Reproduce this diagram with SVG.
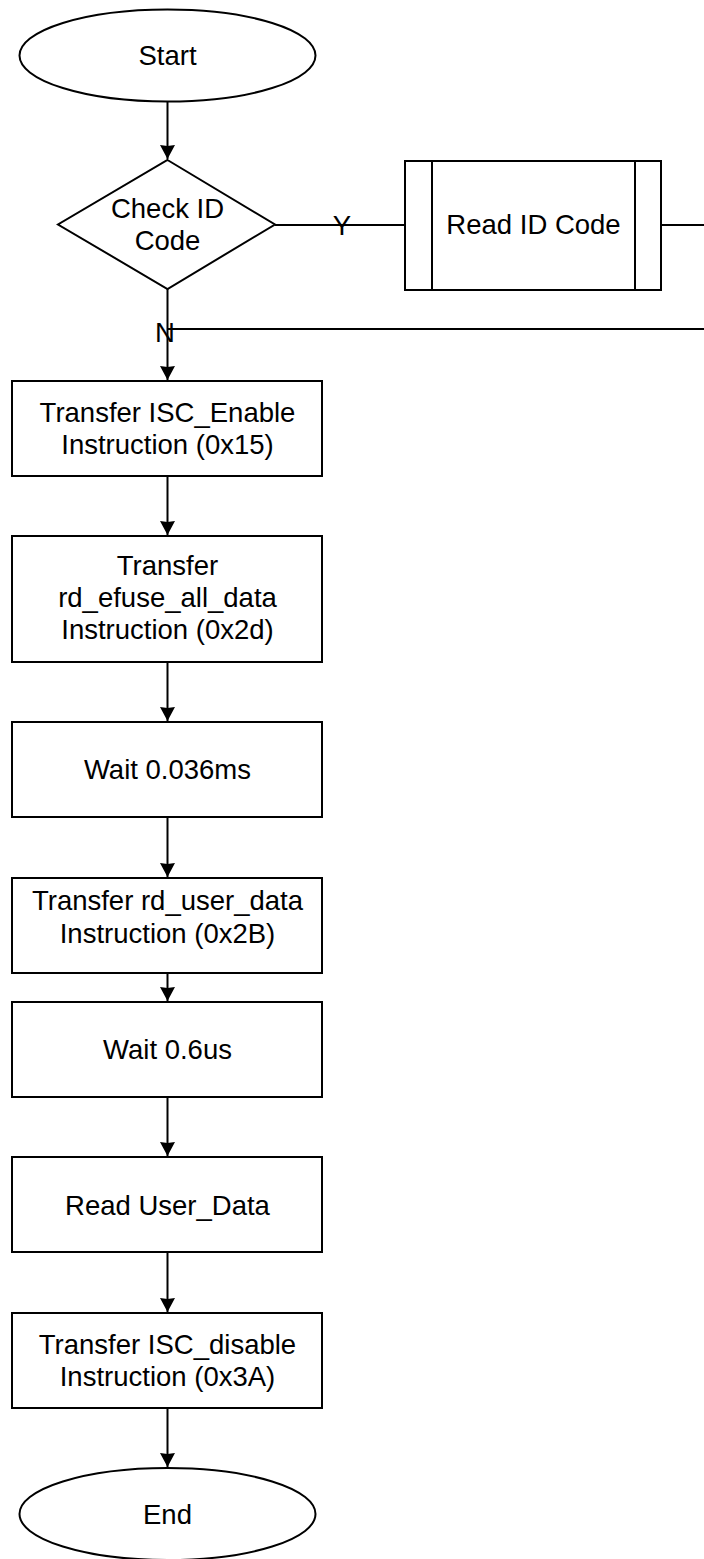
<svg xmlns="http://www.w3.org/2000/svg" width="704" height="1559" viewBox="0 0 704 1559">
<style>
.s{fill:#fff;stroke:#000;stroke-width:2}
.t{font-family:"Liberation Sans",Arial,sans-serif;font-size:27.5px;fill:#000;text-anchor:middle}
.c{fill:none;stroke:#000;stroke-width:2}
</style>
<defs>
<marker id="a" markerUnits="userSpaceOnUse" markerWidth="18" markerHeight="18" refX="15" refY="9" orient="auto">
<path d="M1,1.5 L15,9 L1,16.5 L2,9 Z" fill="#000"/>
</marker>
</defs>
<rect width="704" height="1559" fill="#fff"/>
<g id="connectors">
<path class="c" d="M167.5,102 V159" marker-end="url(#a)"/>
<path class="c" d="M167.5,289 V380" marker-end="url(#a)"/>
<path class="c" d="M275,225 H405"/>
<path class="c" d="M661,225 H720 V329 H167.5"/>
<path class="c" d="M167.5,476 V535" marker-end="url(#a)"/>
<path class="c" d="M167.5,662 V721" marker-end="url(#a)"/>
<path class="c" d="M167.5,817 V877" marker-end="url(#a)"/>
<path class="c" d="M167.5,973 V1001" marker-end="url(#a)"/>
<path class="c" d="M167.5,1097 V1156" marker-end="url(#a)"/>
<path class="c" d="M167.5,1252 V1312" marker-end="url(#a)"/>
<path class="c" d="M167.5,1408 V1467" marker-end="url(#a)"/>
<text class="t" x="342" y="235">Y</text>
<text class="t" x="165" y="342">N</text>
</g>
<g id="start">
<ellipse class="s" cx="167.5" cy="55.5" rx="148" ry="46"/>
<text class="t" x="167.5" y="65">Start</text>
</g>
<g id="check">
<polygon class="s" points="167.5,160 275,224.5 167.5,289 58,224.5"/>
<text class="t" x="167.5" y="218">Check ID</text>
<text class="t" x="167.5" y="250">Code</text>
</g>
<g id="readid">
<rect class="s" x="405" y="161" width="256" height="129"/>
<line class="c" x1="432" y1="161" x2="432" y2="290"/>
<line class="c" x1="635" y1="161" x2="635" y2="290"/>
<text class="t" x="533.5" y="234">Read ID Code</text>
</g>
<g id="enable">
<rect class="s" x="12" y="381" width="310" height="95"/>
<text class="t" x="167.5" y="422">Transfer ISC_Enable</text>
<text class="t" x="167.5" y="454">Instruction (0x15)</text>
</g>
<g id="efuse">
<rect class="s" x="12" y="536" width="310" height="126"/>
<text class="t" x="167.5" y="575">Transfer</text>
<text class="t" x="167.5" y="607">rd_efuse_all_data</text>
<text class="t" x="167.5" y="639">Instruction (0x2d)</text>
</g>
<g id="wait1">
<rect class="s" x="12" y="722" width="310" height="95"/>
<text class="t" x="167.5" y="779">Wait 0.036ms</text>
</g>
<g id="userdata">
<rect class="s" x="12" y="878" width="310" height="95"/>
<text class="t" x="167.5" y="910">Transfer rd_user_data</text>
<text class="t" x="167.5" y="943">Instruction (0x2B)</text>
</g>
<g id="wait2">
<rect class="s" x="12" y="1002" width="310" height="95"/>
<text class="t" x="167.5" y="1059">Wait 0.6us</text>
</g>
<g id="read">
<rect class="s" x="12" y="1157" width="310" height="95"/>
<text class="t" x="167.5" y="1215">Read User_Data</text>
</g>
<g id="disable">
<rect class="s" x="12" y="1313" width="310" height="95"/>
<text class="t" x="167.5" y="1354">Transfer ISC_disable</text>
<text class="t" x="167.5" y="1386">Instruction (0x3A)</text>
</g>
<g id="end">
<ellipse class="s" cx="167.5" cy="1514" rx="148" ry="46"/>
<text class="t" x="167.5" y="1524">End</text>
</g>
</svg>
